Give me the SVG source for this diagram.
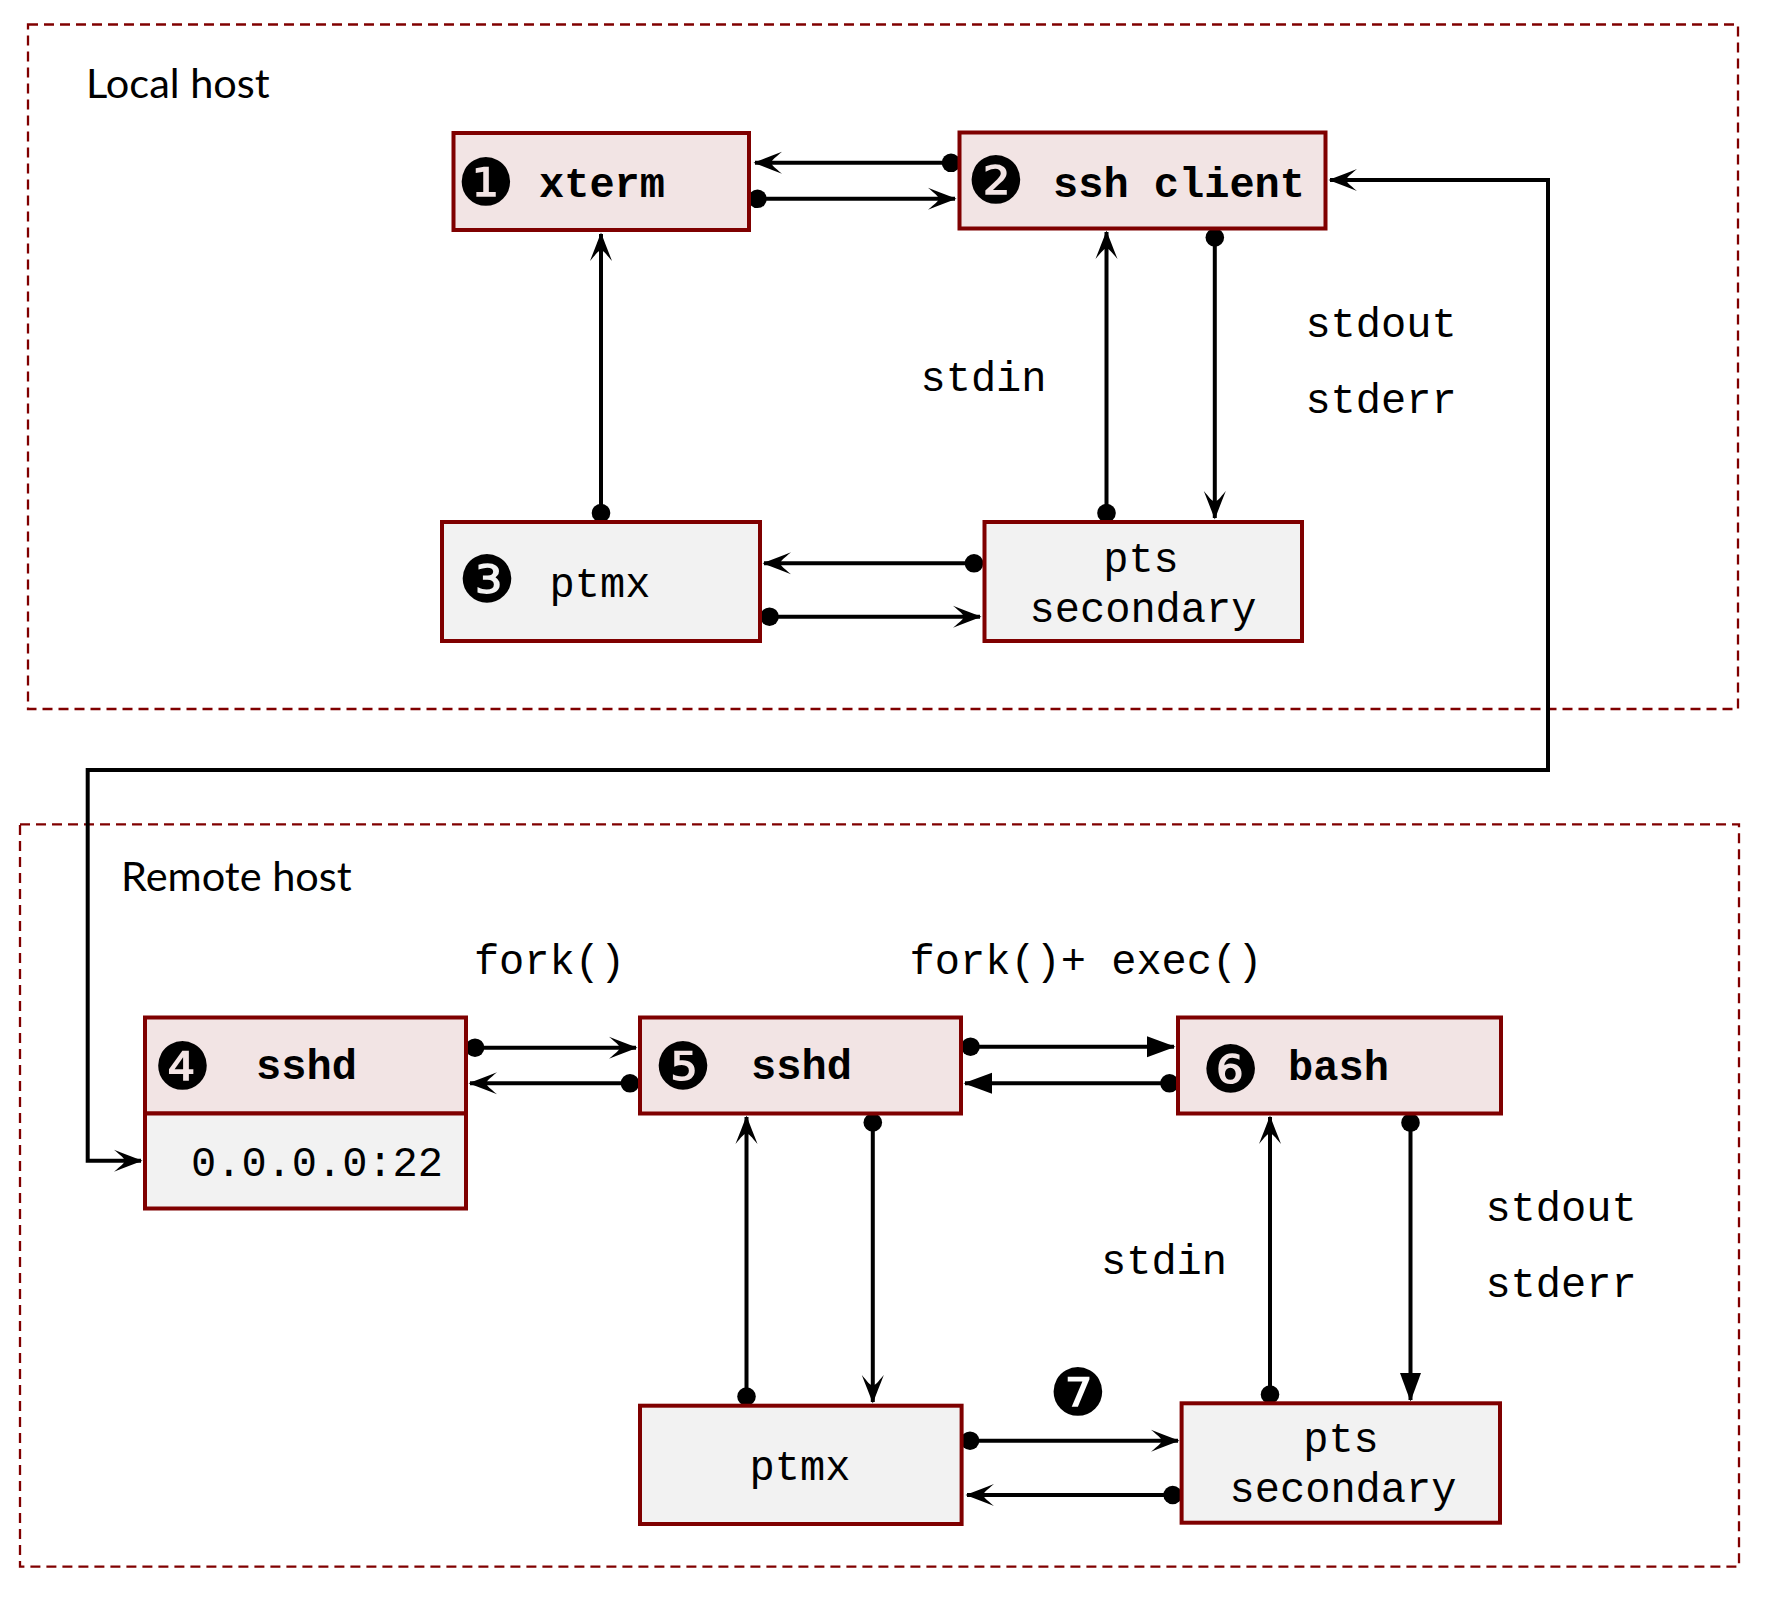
<svg xmlns="http://www.w3.org/2000/svg" width="1768" height="1604" viewBox="0 0 1768 1604">
<style>
.region{fill:none;stroke:#800000;stroke-width:2.3;stroke-dasharray:10 6}
.proc{fill:#F2E4E4;stroke:#7F0000;stroke-width:4}
.dev{fill:#F2F2F2;stroke:#7F0000;stroke-width:4}
.mono{font-family:"Liberation Mono","Courier New",monospace;font-size:42px;text-anchor:middle;fill:#000}
.b{font-weight:bold}
.title{font-family:Lato,"Liberation Sans",sans-serif;font-size:41.5px;fill:#000}
.num{font-family:"DejaVu Sans",sans-serif;font-size:65px;text-anchor:middle;fill:#000}
.c{fill:none;stroke:#000;stroke-width:4}
.o{marker-start:url(#dot);marker-end:url(#open)}
.f{marker-start:url(#dot);marker-end:url(#tri)}
</style>
<defs>
<marker id="dot" markerUnits="userSpaceOnUse" markerWidth="20" markerHeight="20" refX="0" refY="0" orient="auto" overflow="visible">
<circle cx="0" cy="0" r="9.3" fill="#000"/>
</marker>
<marker id="open" markerUnits="userSpaceOnUse" markerWidth="30" markerHeight="24" refX="0" refY="0" orient="auto-start-reverse" overflow="visible">
<path d="M1.5,0 C-8,-3.5 -18,-7.5 -27,-11 C-20,-5 -16.5,-2.5 -16.5,0 C-16.5,2.5 -20,5 -27,11 C-18,7.5 -8,3.5 1.5,0 Z" fill="#000"/>
</marker>
<marker id="tri" markerUnits="userSpaceOnUse" markerWidth="30" markerHeight="24" refX="0" refY="0" orient="auto" overflow="visible">
<path d="M1.5,0 L-27,-10.5 L-27,10.5 Z" fill="#000"/>
</marker>
</defs>

<g id="local-host">
<rect class="region" x="28" y="24.5" width="1710" height="684.5"/>
<text class="title" x="86" y="97.5">Local host</text>
</g>
<g id="remote-host">
<rect class="region" x="20" y="824.3" width="1719" height="742.4"/>
<text class="title" x="121" y="890.5">Remote host</text>
</g>

<g id="connectors">
<path class="c o" d="M951,162.8 L755,162.8"/>
<path class="c o" d="M757.5,198.8 L955,198.8"/>
<path class="c o" d="M601,513 L601,234"/>
<path class="c o" d="M1106.5,513 L1106.5,232"/>
<path class="c o" d="M1214.8,237.5 L1214.8,518"/>
<path class="c o" d="M974,563.3 L764,563.3"/>
<path class="c o" d="M769.5,616.7 L980,616.7"/>
<path class="c" style="marker-start:url(#open);marker-end:url(#open)" d="M1330,180 L1548,180 L1548,770 L87.7,770 L87.7,1160.7 L141,1160.7"/>
<path class="c o" d="M475,1047.7 L636,1047.7"/>
<path class="c o" d="M630,1083.3 L470,1083.3"/>
<path class="c f" d="M970.5,1046.7 L1174,1046.7"/>
<path class="c f" d="M1169.5,1083.3 L965,1083.3"/>
<path class="c o" d="M746.5,1396.5 L746.5,1117"/>
<path class="c o" d="M872.8,1122.5 L872.8,1402"/>
<path class="c o" d="M1270,1394.5 L1270,1117"/>
<path class="c f" d="M1410.5,1122.7 L1410.5,1400"/>
<path class="c o" d="M970,1440.7 L1178,1440.7"/>
<path class="c o" d="M1172.7,1495 L967,1495"/>
</g>

<g id="labels">
<text class="mono" x="983.5" y="391">stdin</text>
<text class="mono" x="1381" y="336.7">stdout</text>
<text class="mono" x="1381" y="413">stderr</text>
<text class="mono" x="549.5" y="974">fork()</text>
<text class="mono" x="1086" y="974">fork()+ exec()</text>
<text class="mono" x="1164" y="1274">stdin</text>
<text class="mono" x="1561" y="1220.7">stdout</text>
<text class="mono" x="1561" y="1297">stderr</text>
<text class="num" x="1078" y="1415">❼</text>
</g>

<g id="xterm">
<rect class="proc" x="453.5" y="133" width="295.5" height="97"/>
<text class="num" x="486" y="205">❶</text>
<text class="mono b" x="602" y="196.7">xterm</text>
</g>
<g id="ssh-client">
<rect class="proc" x="959.5" y="132.5" width="366" height="96"/>
<text class="num" x="996" y="203">❷</text>
<text class="mono b" x="1179" y="196.7">ssh client</text>
</g>
<g id="ptmx-local">
<rect class="dev" x="442" y="522" width="318" height="119"/>
<text class="num" x="487" y="602">❸</text>
<text class="mono" x="600" y="596.7">ptmx</text>
</g>
<g id="pts-local">
<rect class="dev" x="984.5" y="522" width="317.5" height="119"/>
<text class="mono" x="1141" y="571.7">pts</text>
<text class="mono" x="1143" y="621.7">secondary</text>
</g>
<g id="sshd-listen">
<rect class="proc" x="145" y="1017.5" width="321" height="96"/>
<text class="num" x="182.5" y="1089">❹</text>
<text class="mono b" x="306.5" y="1079">sshd</text>
<rect class="dev" x="145" y="1113.5" width="321" height="95"/>
<text class="mono" x="317" y="1176">0.0.0.0:22</text>
</g>
<g id="sshd-session">
<rect class="proc" x="640" y="1017.5" width="321" height="96"/>
<text class="num" x="683" y="1089">❺</text>
<text class="mono b" x="801.5" y="1079">sshd</text>
</g>
<g id="bash">
<rect class="proc" x="1178" y="1017.5" width="323" height="96"/>
<text class="num" x="1230.6" y="1091.7">❻</text>
<text class="mono b" x="1338.5" y="1080">bash</text>
</g>
<g id="ptmx-remote">
<rect class="dev" x="640" y="1405.7" width="321.6" height="118.3"/>
<text class="mono" x="800" y="1480">ptmx</text>
</g>
<g id="pts-remote">
<rect class="dev" x="1181.6" y="1403.3" width="318.4" height="119.4"/>
<text class="mono" x="1341" y="1451.7">pts</text>
<text class="mono" x="1343" y="1501.7">secondary</text>
</g>
</svg>
